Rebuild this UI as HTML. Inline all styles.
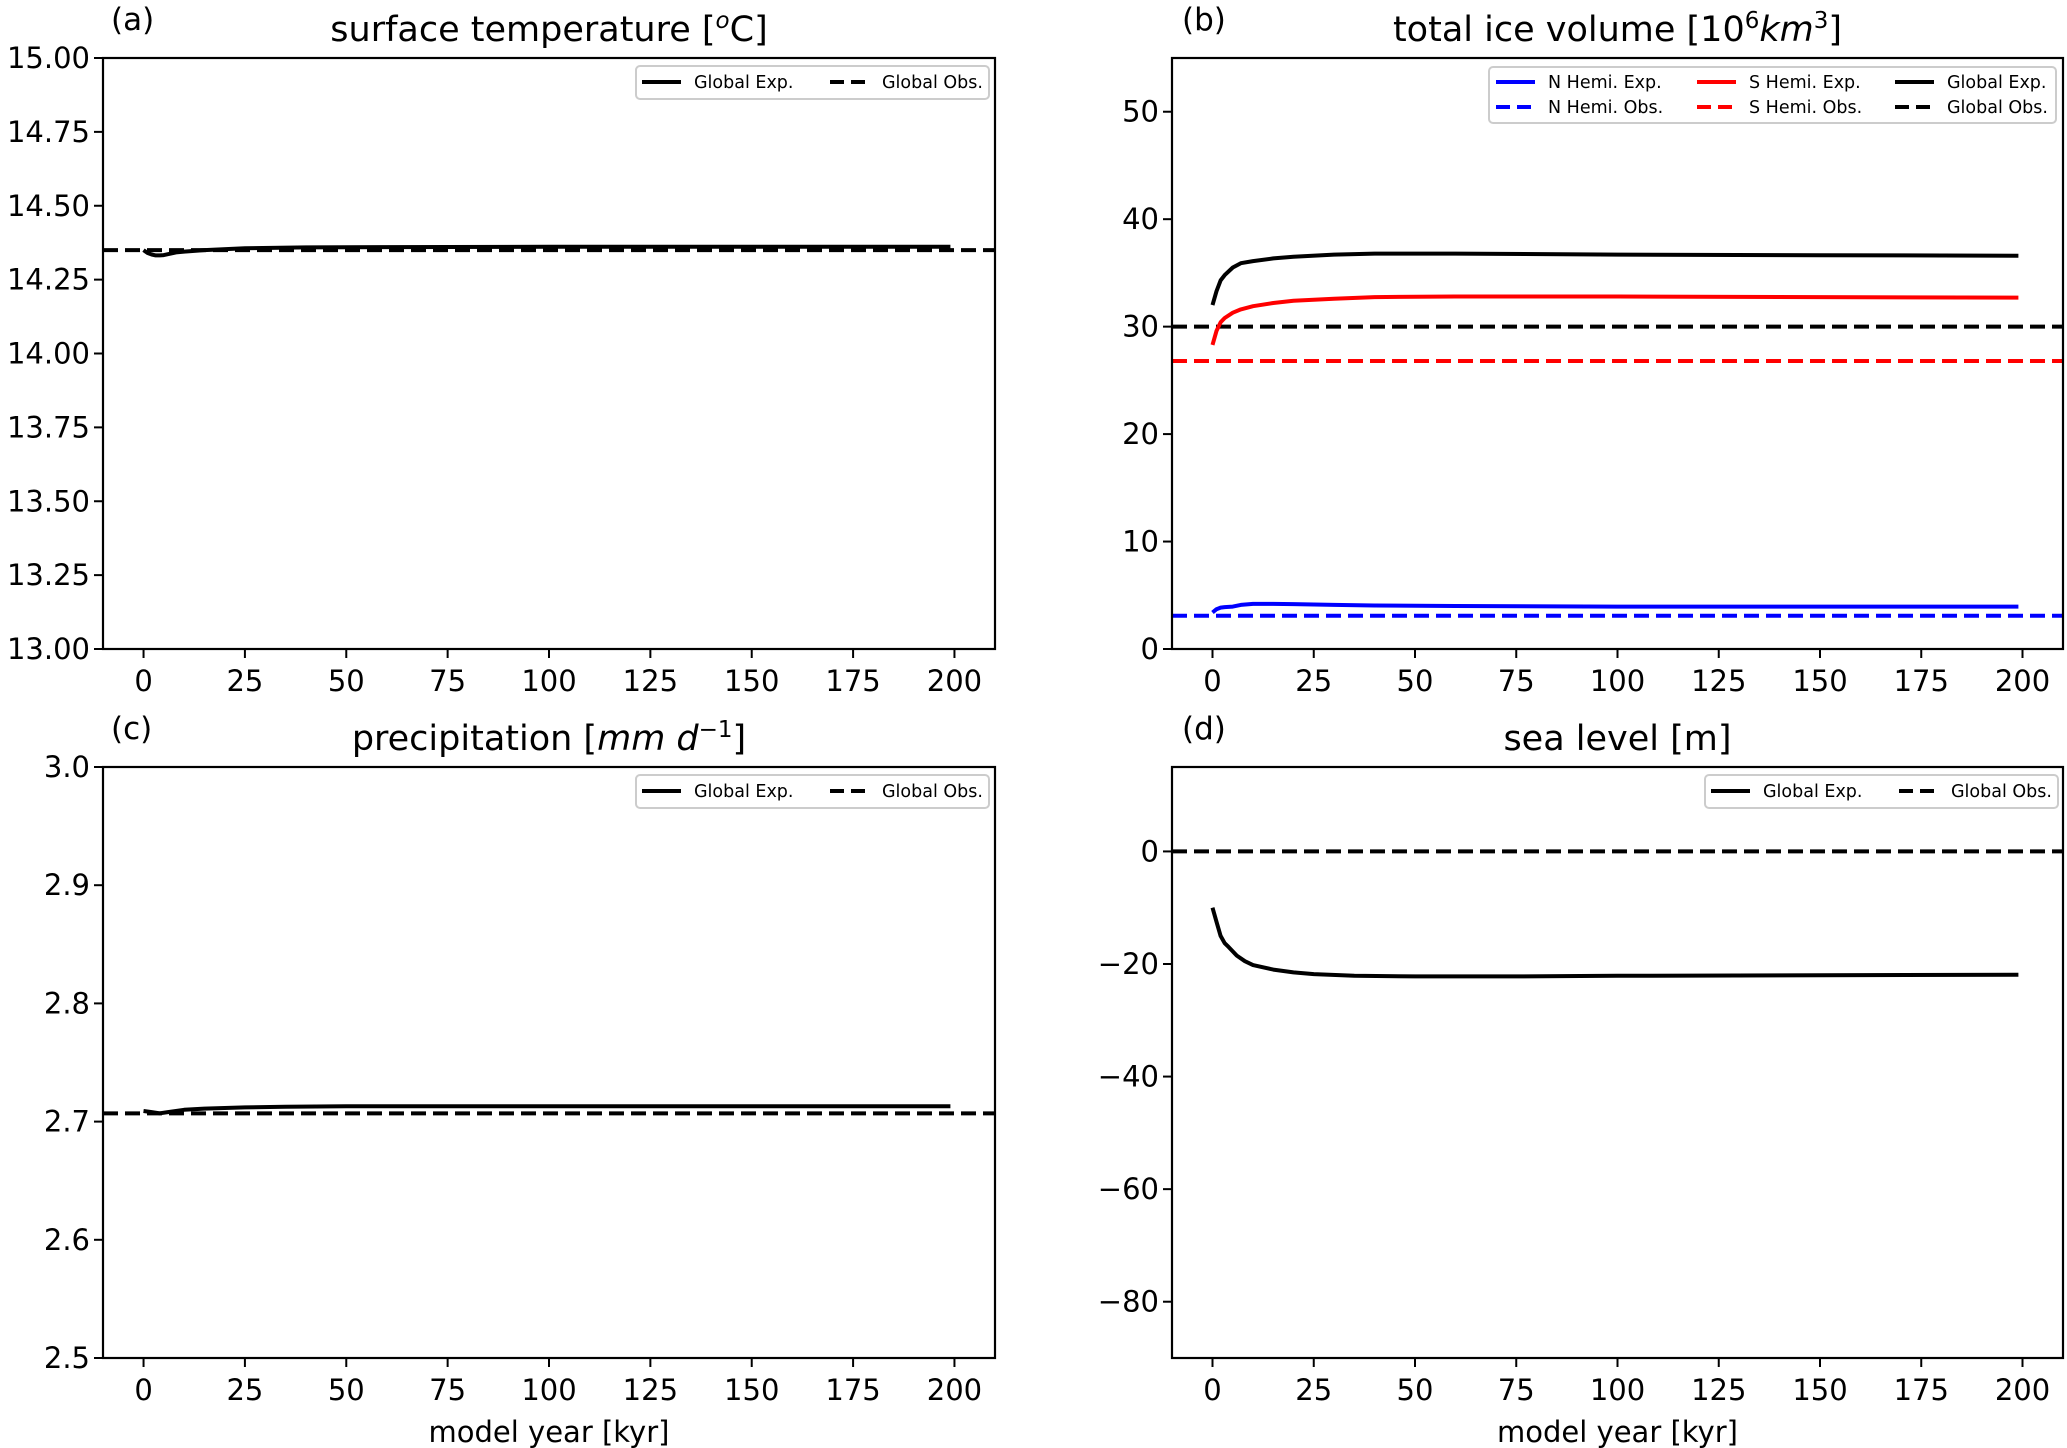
<!DOCTYPE html>
<html><head><meta charset="utf-8">
<style>
html,body{margin:0;padding:0;background:#fff;}
svg{display:block;font-family:"DejaVu Sans","Liberation Sans",sans-serif;}
</style></head>
<body>
<svg id="fig" width="2067" height="1448" viewBox="0 0 2067 1448" xmlns="http://www.w3.org/2000/svg"></svg>
<script>
// ---- data ----
const xTicks = [0,25,50,75,100,125,150,175,200];
// panel a: surface temperature
const tempYears = [0,1,2,3,4,5,6,8,10,15,25,40,60,100,150,199];
const tempExp   = [14.35,14.34,14.335,14.332,14.332,14.333,14.336,14.342,14.345,14.350,14.356,14.359,14.360,14.361,14.361,14.361];
const tempObs = 14.35;
const tempTicks = [13.00,13.25,13.50,13.75,14.00,14.25,14.50,14.75,15.00];
// panel b: ice volume
const iceYears = [0,1,2,3,5,7,10,15,20,30,40,60,100,150,199];
const iceGlobal = [32.0,33.3,34.3,34.8,35.5,35.9,36.1,36.35,36.5,36.7,36.8,36.8,36.7,36.65,36.6];
const iceSouth  = [28.3,29.6,30.4,30.8,31.3,31.6,31.9,32.2,32.4,32.6,32.75,32.8,32.8,32.75,32.7];
const iceNorth  = [3.4,3.7,3.85,3.9,3.95,4.1,4.2,4.2,4.18,4.1,4.05,4.0,3.95,3.95,3.95];
const iceObsGlobal = 30.0, iceObsSouth = 26.8, iceObsNorth = 3.1;
const iceTicks = [0,10,20,30,40,50];
// panel c: precipitation
const precYears = [0,2,4,6,8,10,15,25,35,50,100,150,199];
const precExp   = [2.709,2.708,2.707,2.708,2.709,2.710,2.711,2.712,2.7125,2.713,2.713,2.713,2.713];
const precObs = 2.707;
const precTicks = [2.5,2.6,2.7,2.8,2.9,3.0];
// panel d: sea level
const slYears = [0,1,2,3,4,6,8,10,15,20,25,35,50,75,100,150,199];
const slExp   = [-10,-12.5,-15,-16.3,-17,-18.5,-19.5,-20.2,-21,-21.5,-21.8,-22.1,-22.2,-22.2,-22.1,-22.0,-21.9];
const slObs = 0;
const slTicks = [-80,-60,-40,-20,0];

const svg = document.getElementById('fig');
const NS = 'http://www.w3.org/2000/svg';
function mk(tag, attrs, parent){
  const e = document.createElementNS(NS, tag);
  for (const k in attrs) e.setAttribute(k, attrs[k]);
  (parent||svg).appendChild(e);
  return e;
}
function panel(cfg){
  const g = mk('g', {});
  
  
  const {L,R,T,B,x0,x1,y0,y1} = cfg;
  const sx = v => L + (v - x0) / (x1 - x0) * (R - L);
  const sy = v => B - (v - y0) / (y1 - y0) * (B - T);
  const cid = 'clip-' + cfg.name;
  const cp = mk('clipPath', {id: cid}, g);
  mk('rect', {x:L, y:T, width:R-L, height:B-T}, cp);
  const plot = mk('g', {'clip-path':'url(#'+cid+')'}, g);
  cfg.obs.forEach(o => {
    const l = mk('line', {x1:L, x2:R, y1:sy(o.v), y2:sy(o.v), stroke:o.c, 'stroke-width':4, 'stroke-dasharray':'15 7'}, plot);
    
    
  });
  cfg.series.forEach(s => {
    const d = s.x.map((xv,i)=> (i?'L':'M') + sx(xv).toFixed(1) + ' ' + sy(s.y[i]).toFixed(1)).join(' ');
    const p = mk('path', {d:d, fill:'none', stroke:s.c, 'stroke-width':4, 'stroke-linejoin':'round'}, plot);
    
    
  });
  const fr = mk('rect', {x:L, y:T, width:R-L, height:B-T, fill:'none', stroke:'#000', 'stroke-width':2.2}, g);
  
  
  xTicks.forEach(t => {
    mk('line', {x1:sx(t), x2:sx(t), y1:B, y2:B+9, stroke:'#000', 'stroke-width':2}, g);
    const tx = mk('text', {x:sx(t), y:B+42, 'font-size':29, 'text-anchor':'middle'}, g);
    tx.textContent = t;
    
    
  });
  cfg.yTicks.forEach(t => {
    mk('line', {x1:L-9, x2:L, y1:sy(t), y2:sy(t), stroke:'#000', 'stroke-width':2}, g);
    const tx = mk('text', {x:L-13, y:sy(t)+10, 'font-size':29, 'text-anchor':'end'}, g);
    tx.textContent = cfg.fmt(t);
    
    
  });
  const ti = mk('text', {x:(L+R)/2, y:T-17, 'font-size':35, 'text-anchor':'middle'}, g);
  ti.innerHTML = cfg.title;
  
  
  const lb = mk('text', {x:cfg.labX, y:T-28, 'font-size':31}, g);
  lb.textContent = cfg.label;
  
  
  if (cfg.xlabel){
    const xl = mk('text', {x:(L+R)/2, y:B+84, 'font-size':29, 'text-anchor':'middle'}, g);
    xl.textContent = 'model year [kyr]';
    
    
  }
  const lg = mk('g', {}, g);
  
  
  const bx = cfg.leg.box;
  mk('rect', {x:bx[0], y:bx[1], width:bx[2], height:bx[3], rx:4, fill:'#fff', 'fill-opacity':0.85, stroke:'#ccc', 'stroke-width':2}, lg);
  cfg.leg.items.forEach(it => {
    mk('line', {x1:it.x, x2:it.x+39, y1:it.y, y2:it.y, stroke:it.c, 'stroke-width':4, 'stroke-dasharray': it.dash ? '14 7' : 'none'}, lg);
    const t = mk('text', {x:it.x+52, y:it.y+6, 'font-size':17.5}, lg);
    t.textContent = it.t;
    
    
  });
}
const f2 = v => v.toFixed(2), f1 = v => v.toFixed(1), f0 = v => String(v);
const leg2 = (bx, by) => ({box:[bx,by,353,33], items:[
  {x:bx+6, y:by+16, c:'#000', t:'Global Exp.'},
  {x:bx+194, y:by+16, c:'#000', t:'Global Obs.', dash:true}]});

panel({name:'panel-a-surface-temperature', L:103, R:995, T:58, B:649, x0:-10, x1:210, y0:13, y1:15,
  yTicks:tempTicks, fmt:f2, label:'(a)', labX:111,
  title:'surface temperature [<tspan font-style="italic" font-size="23" dy="-13">o</tspan><tspan dy="13">C]</tspan>',
  obs:[{v:tempObs, c:'#000', n:'global-obs-line'}],
  series:[{x:tempYears, y:tempExp, c:'#000', n:'global-exp-line'}],
  leg:leg2(636,66)});

panel({name:'panel-b-ice-volume', L:1172, R:2063, T:58, B:649, x0:-10, x1:210, y0:0, y1:55,
  yTicks:iceTicks, fmt:f0, label:'(b)', labX:1182,
  title:'total ice volume [10<tspan font-size="23" dy="-13">6</tspan><tspan dy="13" font-style="italic">km</tspan><tspan font-size="23" dy="-13">3</tspan><tspan dy="13">]</tspan>',
  obs:[{v:iceObsGlobal,c:'#000',n:'global-obs-line'},{v:iceObsSouth,c:'#f00',n:'s-hemi-obs-line'},{v:iceObsNorth,c:'#00f',n:'n-hemi-obs-line'}],
  series:[{x:iceYears,y:iceGlobal,c:'#000',n:'global-exp-line'},{x:iceYears,y:iceSouth,c:'#f00',n:'s-hemi-exp-line'},{x:iceYears,y:iceNorth,c:'#00f',n:'n-hemi-exp-line'}],
  leg:{box:[1489,67,567,56], items:[
    {x:1496,y:82,c:'#00f',t:'N Hemi. Exp.'},{x:1697,y:82,c:'#f00',t:'S Hemi. Exp.'},{x:1895,y:82,c:'#000',t:'Global Exp.'},
    {x:1496,y:107,c:'#00f',t:'N Hemi. Obs.',dash:true},{x:1697,y:107,c:'#f00',t:'S Hemi. Obs.',dash:true},{x:1895,y:107,c:'#000',t:'Global Obs.',dash:true}]}});

panel({name:'panel-c-precipitation', L:103, R:995, T:767, B:1358, x0:-10, x1:210, y0:2.5, y1:3.0,
  yTicks:precTicks, fmt:f1, label:'(c)', labX:111, xlabel:true,
  title:'precipitation [<tspan font-style="italic">mm d</tspan><tspan font-size="23" dy="-13">−1</tspan><tspan dy="13">]</tspan>',
  obs:[{v:precObs,c:'#000',n:'global-obs-line'}],
  series:[{x:precYears,y:precExp,c:'#000',n:'global-exp-line'}],
  leg:leg2(636,775)});

panel({name:'panel-d-sea-level', L:1172, R:2063, T:767, B:1358, x0:-10, x1:210, y0:-90, y1:15,
  yTicks:slTicks, fmt:v=>v<0?'−'+(-v):String(v), label:'(d)', labX:1182, xlabel:true,
  title:'sea level [m]',
  obs:[{v:slObs,c:'#000',n:'global-obs-line'}],
  series:[{x:slYears,y:slExp,c:'#000',n:'global-exp-line'}],
  leg:leg2(1705,775)});
</script>
</body></html>
